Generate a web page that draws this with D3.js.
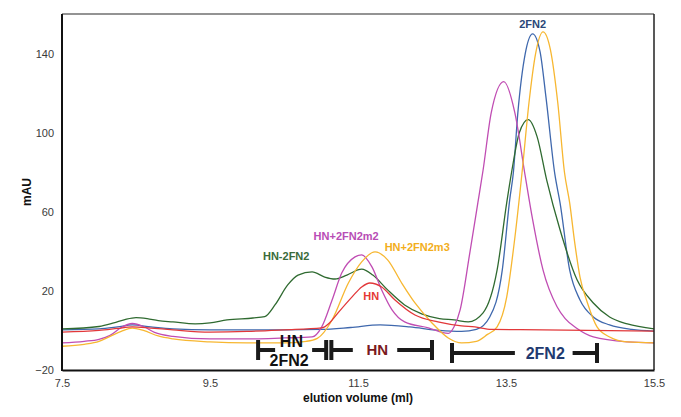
<!DOCTYPE html>
<html><head><meta charset="utf-8">
<script src="https://cdn.jsdelivr.net/npm/d3@7"></script>
<style>
html,body{margin:0;padding:0;background:#fff;}
svg{display:block;font-family:"Liberation Sans",Arial,Helvetica,sans-serif;}
</style></head>
<body><svg id="c" width="681" height="417"></svg>
<script>
// ---- data (elution volume ml, mAU) ----
const xTicks = [7.5, 9.5, 11.5, 13.5, 15.5];
const yTicks = [-20, 20, 60, 100, 140];

const blue2FN2 = [[7.5,0.3],[8.0,0.8],[8.25,1.8],[8.45,2.8],[8.7,1.8],[9.0,0.8],[9.5,0.3],[10.0,0.3],[10.5,0.3],[11.0,0.5],[11.4,1.5],[11.8,2.8],[12.2,1.8],[12.6,0],[12.9,-0.5],[13.1,0.5],[13.28,6.8],[13.45,30.6],[13.55,66],[13.6,80],[13.66,110],[13.76,140],[13.86,150],[13.96,141],[14.04,118],[14.16,79],[14.23,64.6],[14.36,30.6],[14.5,15.4],[14.68,6.8],[14.9,2.8],[15.2,0.5],[15.5,-0.3]];

const yellowM3 = [[7.5,-8],[7.8,-7],[8.0,-5.5],[8.15,-3],[8.3,-0.5],[8.45,1.2],[8.6,0],[8.8,-2.8],[9.0,-4.3],[9.5,-5.8],[10.0,-6.3],[10.5,-6.3],[10.8,-5.5],[10.95,-4],[11.15,5.3],[11.37,24],[11.55,34.7],[11.73,39.7],[11.9,35.7],[12.09,24],[12.27,13.9],[12.5,3.8],[12.72,-3.8],[12.9,-6.3],[13.1,-5.5],[13.25,-2],[13.38,1.8],[13.51,17],[13.62,47],[13.72,81],[13.81,115],[13.9,140],[14.0,151],[14.1,142],[14.2,115],[14.29,80],[14.36,64.6],[14.43,44],[14.5,27],[14.6,14],[14.73,1.8],[14.9,-3.3],[15.14,-5.8],[15.5,-6.3]];

const magentaM2 = [[7.5,-6.3],[7.8,-5.5],[8.0,-4.5],[8.15,-2.5],[8.3,1.5],[8.45,3.5],[8.6,2],[8.75,-1],[9.0,-3],[9.5,-4.3],[10.0,-4.3],[10.5,-3.8],[10.88,-3.3],[11.01,1.8],[11.15,15.4],[11.28,29],[11.46,37.2],[11.55,38.2],[11.69,32],[11.82,20.5],[11.96,10.4],[12.13,4.3],[12.45,1.3],[12.72,-1.5],[12.8,2],[12.88,10.4],[13.01,39],[13.12,64.6],[13.19,81],[13.3,110],[13.47,125.8],[13.62,110],[13.76,78],[13.86,56],[14.0,30.6],[14.19,12],[14.3,6],[14.46,1],[14.68,-3.3],[15.14,-5.8],[15.5,-6.3]];

const greenHN2FN2 = [[7.5,0.8],[8.0,2],[8.2,3.8],[8.35,5.5],[8.5,6.5],[8.65,6],[8.8,5],[9.0,4.3],[9.3,3.3],[9.5,3.8],[9.73,5.3],[10.08,6.3],[10.24,7],[10.38,13],[10.55,23],[10.69,28],[10.88,29.6],[11.05,27],[11.19,26],[11.35,28],[11.55,31],[11.7,28],[11.9,20.5],[12.13,12.9],[12.36,8.4],[12.6,6],[12.8,5.3],[12.99,4.3],[13.19,8.9],[13.38,30.6],[13.51,64.6],[13.58,81],[13.68,100],[13.8,106.6],[13.92,98],[14.05,76],[14.23,50.9],[14.46,25.6],[14.68,13.9],[14.9,6.8],[15.14,3.3],[15.5,0.8]];

const redHN = [[7.5,-0.8],[8.0,0],[8.25,1],[8.45,1.8],[8.7,1.2],[9.0,0.3],[9.5,-0.8],[10.0,-0.5],[10.5,0.3],[11.01,1.3],[11.12,4],[11.23,8.9],[11.42,17],[11.55,22],[11.66,24],[11.82,22],[12.0,15.4],[12.27,7.8],[12.58,4.3],[12.9,2.3],[13.08,1.8],[13.3,0.5],[14.0,0.3],[15.5,-0.3]];

const seriesNames = ["2FN2","HN-2FN2","HN+2FN2m2","HN+2FN2m3","HN"];
const seriesColors = ["#3f68ad","#2f6a30","#c04db3","#f7b731","#e2383a"];
const seriesData = [blue2FN2, greenHN2FN2, magentaM2, yellowM3, redHN];

// peak labels: text, ml, mAU, colour
const labelText = ["2FN2","HN-2FN2","HN+2FN2m2","HN+2FN2m3","HN"];
const labelX = [13.86, 10.53, 11.34, 12.3, 11.68];
const labelY = [155, 37.7, 47.8, 42.3, 17.5];
const labelColor = ["#2b4878","#3a6b3a","#b84db5","#f2ae1c","#e53935"];

// fraction brackets: start ml, end ml, level mAU
const bracketStart = [10.15, 11.14, 12.77];
const bracketEnd = [11.07, 12.5, 14.73];
const bracketLevel = [-9.9, -9.9, -11.4];
const bracketColor = ["#1a1a1a","#1a1a1a","#1a1a1a"];

// ---- layout ----
const svg = d3.select("#c");
const L = 62, R = 654, T = 14, B = 370;
const x = d3.scaleLinear().domain([7.5, 15.5]).range([L, R]);
const y = d3.scaleLinear().domain([-20, 160]).range([B, T]);

const line = d3.line().x(d => x(d[0])).y(d => y(d[1])).curve(d3.curveMonotoneX);
const order = [0,1,2,3,4];
order.forEach(i => {
  svg.append("path").attr("d", line(seriesData[i]))
    .attr("fill","none").attr("stroke", seriesColors[i]).attr("stroke-width",1.3);
});

// frame
svg.append("line").attr("x1",L).attr("x2",R).attr("y1",T).attr("y2",T).attr("stroke","#6f6f6f").attr("stroke-width",1.5);
svg.append("line").attr("x1",R).attr("x2",R).attr("y1",T).attr("y2",B).attr("stroke","#222").attr("stroke-width",1.5);

// axes (no tick marks)
const xAxis = d3.axisBottom(x).tickValues(xTicks).tickSize(0).tickPadding(9).tickFormat(d3.format(".1f"));
const yAxis = d3.axisLeft(y).tickValues(yTicks).tickSize(0).tickPadding(8).tickFormat(d3.format("d"));
const gx = svg.append("g").attr("transform",`translate(0,${B})`).call(xAxis);
const gy = svg.append("g").attr("transform",`translate(${L},0)`).call(yAxis);
[gx, gy].forEach(g => {
  g.select(".domain").attr("stroke","#111").attr("stroke-width",2);
  g.selectAll("text").attr("font-size",11).attr("fill","#3a3a3a").attr("font-family","Liberation Sans, Arial, sans-serif");
});
gy.select(".domain").attr("d", `M0,${T}V${B+1}`);

// axis titles
svg.append("text").attr("x", (L+R)/2).attr("y", 402).attr("text-anchor","middle")
  .attr("font-size",12).attr("font-weight","bold").attr("fill","#111").text("elution volume (ml)");
svg.append("text").attr("transform",`translate(31,${(T+B)/2}) rotate(-90)`).attr("text-anchor","middle")
  .attr("font-size",12).attr("font-weight","bold").attr("fill","#111").text("mAU");

// peak labels
labelText.forEach((t,i) => {
  svg.append("text").attr("x", x(labelX[i])).attr("y", y(labelY[i])).attr("dy","0.35em")
    .attr("text-anchor","middle").attr("font-size",11).attr("font-weight","bold")
    .attr("fill", labelColor[i]).text(t);
});

// brackets
const bw = 4;
bracketStart.forEach((s,i) => {
  const yy = y(bracketLevel[i]);
  const g = svg.append("g").attr("stroke", bracketColor[i]).attr("stroke-width", bw);
  g.append("line").attr("x1", x(s)).attr("x2", x(s)).attr("y1", yy-10).attr("y2", yy+10);
  g.append("line").attr("x1", x(bracketEnd[i])).attr("x2", x(bracketEnd[i])).attr("y1", yy-10).attr("y2", yy+10);
});
// bracket 1 (HN / 2FN2)
const b1 = y(bracketLevel[0]);
svg.append("line").attr("x1",x(bracketStart[0])).attr("x2",x(10.38)).attr("y1",b1).attr("y2",b1).attr("stroke","#1a1a1a").attr("stroke-width",bw);
svg.append("line").attr("x1",x(10.88)).attr("x2",x(bracketEnd[0])).attr("y1",b1).attr("y2",b1).attr("stroke","#1a1a1a").attr("stroke-width",bw);
svg.append("text").attr("x",x(10.6)).attr("y",b1-3).attr("text-anchor","middle").attr("font-size",16).attr("font-weight","bold").attr("fill","#111").text("HN");
svg.append("text").attr("x",x(10.57)).attr("y",b1+16).attr("text-anchor","middle").attr("font-size",16).attr("font-weight","bold").attr("fill","#111").text("2FN2");
// bracket 2 (HN)
const b2 = y(bracketLevel[1]);
svg.append("line").attr("x1",x(bracketStart[1])).attr("x2",x(11.43)).attr("y1",b2).attr("y2",b2).attr("stroke","#1a1a1a").attr("stroke-width",bw);
svg.append("line").attr("x1",x(12.03)).attr("x2",x(bracketEnd[1])).attr("y1",b2).attr("y2",b2).attr("stroke","#1a1a1a").attr("stroke-width",bw);
svg.append("text").attr("x",x(11.76)).attr("y",b2).attr("dy","0.35em").attr("text-anchor","middle").attr("font-size",15).attr("font-weight","bold").attr("fill","#7a1a1e").text("HN");
// bracket 3 (2FN2)
const b3 = y(bracketLevel[2]);
svg.append("line").attr("x1",x(bracketStart[2])).attr("x2",x(13.62)).attr("y1",b3).attr("y2",b3).attr("stroke","#1a1a1a").attr("stroke-width",bw);
svg.append("line").attr("x1",x(14.4)).attr("x2",x(bracketEnd[2])).attr("y1",b3).attr("y2",b3).attr("stroke","#1a1a1a").attr("stroke-width",bw);
svg.append("text").attr("x",x(14.03)).attr("y",b3).attr("dy","0.35em").attr("text-anchor","middle").attr("font-size",16).attr("font-weight","bold").attr("fill","#1f3a70").text("2FN2");
</script></body></html>
